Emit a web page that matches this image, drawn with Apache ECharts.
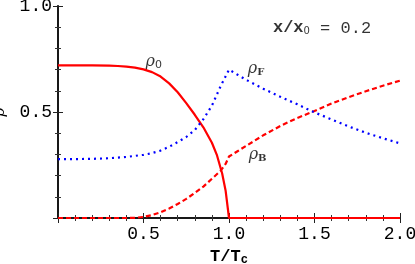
<!DOCTYPE html>
<html><head><meta charset="utf-8">
<script src="https://cdn.jsdelivr.net/npm/echarts@6/dist/echarts.min.js"></script>
<style>html,body{margin:0;padding:0;background:#fff}#c{width:415px;height:264px}</style>
</head><body><div id="c"></div>
<script>
// data
const tRho0 = [0,0.1,0.2,0.3,0.35,0.4,0.45,0.5,0.55,0.6,0.65,0.7,0.75,0.8,0.85,0.9,0.93,0.96,0.98,1.0,1.5,2.0];
const rho0  = [0.72,0.72,0.72,0.719,0.717,0.714,0.709,0.701,0.688,0.667,0.635,0.593,0.542,0.487,0.428,0.355,0.295,0.21,0.13,0,0,0];
const tRhoF = [0,0.1,0.2,0.3,0.4,0.5,0.55,0.6,0.65,0.7,0.75,0.8,0.85,0.9,0.95,1.0,1.05,1.1,1.2,1.3,1.4,1.5,1.6,1.7,1.8,1.9,2.0];
const rhoF  = [0.278,0.278,0.279,0.282,0.288,0.298,0.306,0.318,0.336,0.358,0.382,0.415,0.466,0.53,0.62,0.70,0.676,0.652,0.61,0.572,0.536,0.498,0.465,0.432,0.402,0.376,0.352];
const tRhoB = [0,0.4,0.45,0.5,0.55,0.6,0.65,0.7,0.75,0.8,0.85,0.9,0.95,0.98,1.0,1.05,1.1,1.2,1.3,1.4,1.5,1.6,1.7,1.8,1.9,2.0];
const rhoB  = [0,0,0.001,0.005,0.014,0.027,0.045,0.066,0.09,0.118,0.148,0.185,0.222,0.255,0.29,0.315,0.34,0.39,0.434,0.472,0.505,0.54,0.57,0.598,0.624,0.648];
const xTicks = [0.5,1.0,1.5,2.0];
const yTicks = [0.5,1.0];

const zip = (a,b) => a.map((v,i)=>[v,b[i]]);
const chart = echarts.init(document.getElementById('c'), null, {renderer:'canvas'});
const mono = 'Liberation Mono';
const fmt = v => (v===0 ? '' : v.toFixed(1));
const baseAxis = {
  min:0, interval:0.5,
  axisTick:{show:true, inside:true, length:5, lineStyle:{color:'#222', width:1}},
  minorTick:{show:true, splitNumber:5, length:3, lineStyle:{color:'#333', width:1}},
  splitLine:{show:false}, minorSplitLine:{show:false}
};
const greek = {
  r:{fontFamily:'DejaVu Serif', fontStyle:'italic', fontSize:16, color:'#000'},
  s:{fontFamily:'DejaVu Sans', fontSize:11, color:'#000', padding:[7,0,0,0]},
  sb:{fontFamily:'DejaVu Serif', fontWeight:'bold', fontSize:10, color:'#000', padding:[7,0,0,0]}
};
function ann(x,y,text,pos){
  return {type:'scatter', xAxisIndex:0, yAxisIndex:0, symbolSize:0, silent:true,
    data:[[x,y]], label:{show:true, position:pos||'inside', distance:0, formatter:text, rich:greek}};
}
chart.setOption({
  animation:false,
  grid:{left:58, right:15, top:6, bottom:46, outerBoundsMode:'none', containLabel:false},
  xAxis:[
    Object.assign({}, baseAxis, {type:'value', max:2, position:'bottom',
      axisLine:{show:true, lineStyle:{color:'#333', width:2}},
      axisLabel:{show:true, margin:7, fontFamily:mono, fontSize:18, color:'#000', formatter:fmt},
      name:'T/T{s|c}', nameLocation:'middle', nameGap:28,
      nameTextStyle:{fontFamily:mono, fontWeight:'bold', fontSize:17, color:'#000',
        rich:{s:{fontFamily:mono, fontWeight:'bold', fontSize:12, color:'#000', padding:[7,0,0,0]}}}}),
    Object.assign({}, baseAxis, {type:'value', max:2, position:'top',
      axisLine:{show:true, lineStyle:{color:'#111', width:1.5}}, axisLabel:{show:false}})
  ],
  yAxis:[
    Object.assign({}, baseAxis, {type:'value', max:1, position:'left',
      axisLine:{show:true, lineStyle:{color:'#333', width:2}},
      axisLabel:{show:true, margin:6, fontFamily:mono, fontSize:18, color:'#000', formatter:fmt},
      name:'ρ', nameLocation:'middle', nameGap:50,
      nameTextStyle:{fontFamily:'DejaVu Serif', fontStyle:'italic', fontSize:15, color:'#000'}}),
    Object.assign({}, baseAxis, {type:'value', max:1, position:'right',
      axisLine:{show:true, lineStyle:{color:'#111', width:1.5}}, axisLabel:{show:false}})
  ],
  series:[
    {type:'line', name:'rho0', data:zip(tRho0,rho0), showSymbol:false, symbol:'none',
      lineStyle:{color:'#ff0000', width:2.2, type:'solid'}},
    {type:'line', name:'rhoB', data:zip(tRhoB,rhoB), showSymbol:false, symbol:'none',
      lineStyle:{color:'#ff0000', width:2.2, type:[5,3]}},
    {type:'line', name:'rhoF', data:zip(tRhoF,rhoF), showSymbol:false, symbol:'none',
      lineStyle:{color:'#0000ff', width:2.2, type:[2,4]}},
    ann(0.56,0.738,'{r|ρ}{s|0}'),
    ann(1.158,0.705,'{r|ρ}{sb|F}'),
    ann(1.167,0.297,'{r|ρ}{sb|B}'),
    {type:'scatter', symbolSize:0, silent:true, data:[[1.257,0.896]],
      label:{show:true, position:'right', distance:0,
        formatter:'{b|x/x}{s|0}{n| = 0.2}',
        rich:{b:{fontFamily:mono, fontWeight:'bold', fontSize:17, color:'#000'},
              s:{fontFamily:'DejaVu Sans', fontSize:10, color:'#000', padding:[7,0,0,0]},
              n:{fontFamily:mono, fontSize:17, color:'#000'}}}}
  ]
});
</script></body></html>
